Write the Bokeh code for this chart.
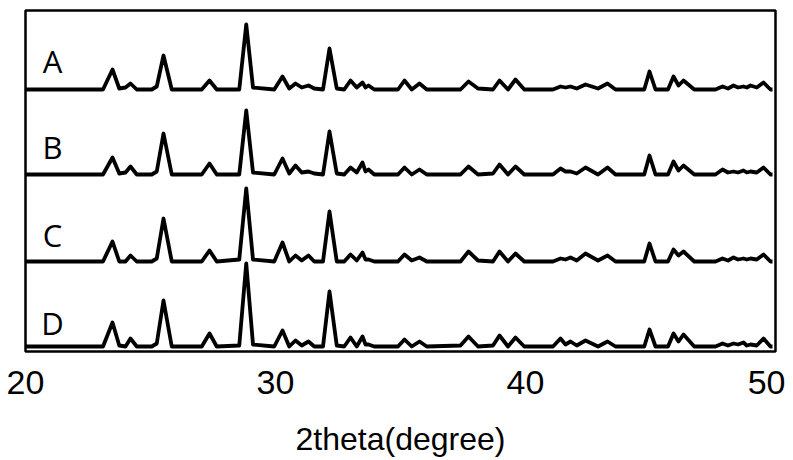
from bokeh.plotting import figure
from bokeh.models import Range1d, FixedTicker, ColumnDataSource
from bokeh.core.properties import value
from bokeh.embed import file_html
from bokeh.resources import INLINE

# 2theta grid (degree)
two_theta = [20.0, 23.1, 23.48, 23.75, 24.0, 24.2, 24.45, 25.05, 25.25, 25.52,
             25.85, 27.05, 27.36, 27.65, 28.55, 28.83, 29.1, 29.95, 30.28, 30.55,
             30.8, 31.05, 31.32, 31.55, 31.9, 32.16, 32.45, 32.75, 33.0, 33.25,
             33.48, 33.6, 33.72, 33.95, 34.9, 35.16, 35.45, 35.76, 36.05, 37.4,
             37.72, 38.1, 38.7, 38.96, 39.3, 39.6, 39.95, 41.1, 41.4, 41.6,
             41.8, 42.05, 42.4, 42.9, 43.28, 43.6, 44.75, 44.96, 45.2, 45.7,
             45.92, 46.12, 46.32, 46.75, 47.6, 47.88, 48.1, 48.32, 48.5, 48.72,
             48.85, 49.0, 49.25, 49.52, 49.8, 49.88]

# intensities (arbitrary units) of each sample
int_A = [0, 0, 20, 1, 2, 6, 0, 0, 3, 34,
         0, 0, 9, 0, 0, 65, 2, 0, 13, 1,
         6, 2, 4, 1, 0, 41, 1, 0, 9, 2,
         7, 2, 4, 0, 0, 9, 0, 6, 0, 0,
         8, 1, 0, 9, 0, 10, 0, 0, 3, 2,
         3, 1, 5, 1, 6, 0, 0, 18, 0, 0,
         13, 4, 9, 0, 0, 3, 1, 4, 2, 3,
         2, 4, 2, 7, 0, 0]
int_B = [0, 0, 17, 1, 2, 8, 0, 0, 3, 41,
         0, 0, 11, 0, 0, 64, 2, 0, 16, 1,
         9, 2, 3, 1, 0, 43, 1, 0, 7, 2,
         12, 3, 5, 0, 0, 7, 0, 5, 0, 0,
         8, 0, 1, 10, 0, 8, 0, 0, 6, 3,
         3, 1, 7, 0, 7, 0, 0, 19, 0, 0,
         13, 4, 9, 0, 0, 5, 2, 3, 2, 4,
         2, 3, 2, 7, 0, 0]
int_C = [0, 0, 20, 0, 0, 6, 0, 0, 3, 43,
         0, 0, 11, 0, 2, 73, 2, 0, 19, 0,
         6, 1, 6, 0, 0, 50, 0, 0, 7, 1,
         9, 2, 2, 0, 0, 7, 1, 4, 0, 0,
         10, 1, 0, 10, 0, 8, 0, 0, 3, 2,
         4, 1, 8, 1, 6, 0, 0, 18, 0, 0,
         12, 6, 10, 0, 0, 3, 1, 4, 2, 3,
         2, 3, 2, 7, 0, 0]
int_D = [0, 0, 24, 1, 0, 8, 0, 0, 3, 46,
         0, 0, 13, 0, 1, 83, 2, 0, 16, 0,
         6, 1, 5, 0, 0, 55, 1, 0, 9, 0,
         10, 2, 2, 0, 0, 7, 0, 5, 0, 1,
         10, 0, 1, 11, 0, 9, 0, 0, 8, 2,
         5, 1, 6, 0, 5, 0, 0, 17, 0, 0,
         13, 5, 12, 0, 0, 3, 1, 3, 2, 4,
         1, 2, 1, 8, 0, 0]

labels = ["A", "B", "C", "D"]
offsets = [262, 177, 90, 5]
label_y = [291, 205, 117, 29]
label_x = 21.08
tick_values = [20, 30, 40, 50]

p = figure(frame_width=750, frame_height=341, output_backend="svg",
           toolbar_location=None, x_range=Range1d(20, 50), y_range=Range1d(0, 341),
           min_border_left=25, min_border_top=10, min_border_right=10, min_border_bottom=105)

for ints, off in zip([int_A, int_B, int_C, int_D], offsets):
    src = ColumnDataSource(dict(x=two_theta, y=[v + off for v in ints]))
    p.line("x", "y", source=src, line_color="black", line_width=3.8, line_join="round")

p.text(x=[label_x] * 4, y=label_y, text=labels, text_font=value("Open Sans"),
       text_font_size="31px", text_align="center", text_baseline="middle",
       text_color="black")

p.grid.visible = False
p.yaxis.visible = False
p.outline_line_color = "black"
p.outline_line_width = 2.5
p.background_fill_color = "white"

ax = p.xaxis[0]
ax.ticker = FixedTicker(ticks=tick_values)
ax.axis_line_color = None
ax.major_tick_line_color = None
ax.minor_tick_line_color = None
ax.major_label_text_font = "Liberation Sans"
ax.major_label_text_font_size = "34px"
ax.major_label_text_color = "black"
ax.major_label_standoff = 13
ax.axis_label = "2theta(degree)"
ax.axis_label_text_font = "Liberation Sans"
ax.axis_label_text_font_size = "32px"
ax.axis_label_text_font_style = "normal"
ax.axis_label_text_color = "black"
ax.axis_label_standoff = 24

open("out.html", "w").write(file_html(p, INLINE))
